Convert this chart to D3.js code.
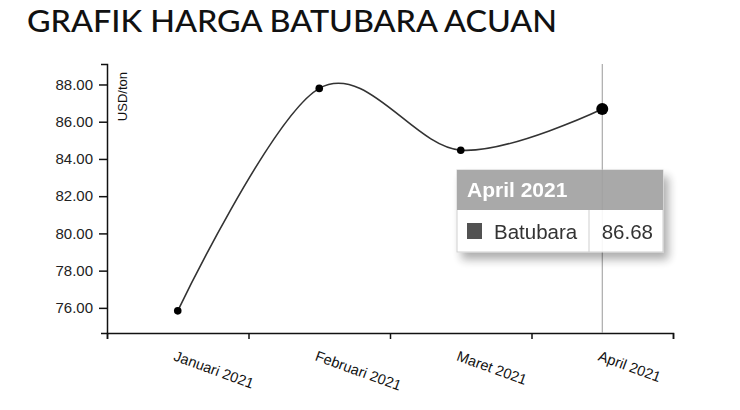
<!DOCTYPE html>
<html>
<head>
<meta charset="utf-8">
<script src="https://cdn.jsdelivr.net/npm/d3@7"></script>
<style>
  body { margin: 0; background: #fff; }
  svg { display: block; }
</style>
</head>
<body>
<svg id="chart" width="740" height="410"></svg>
<script>
// data
var months = ["Januari 2021", "Februari 2021", "Maret 2021", "April 2021"];
var hba = [75.84, 87.79, 84.47, 86.68];
var yTicks = [76, 78, 80, 82, 84, 86, 88];
var seriesName = "Batubara";
var focusIndex = 3;

var svg = d3.select("#chart");
var plotLeft = 107, plotRight = 673, plotTop = 64, plotBottom = 333;

var defs = svg.append("defs");
defs.append("filter")
	.attr("id", "shadow")
	.attr("x", "-20%").attr("y", "-20%")
	.attr("width", "150%").attr("height", "160%")
	.append("feDropShadow")
	.attr("dx", 5).attr("dy", 7)
	.attr("stdDeviation", 5)
	.attr("flood-color", "#000")
	.attr("flood-opacity", 0.35);

//Title
svg.append("text")
	.attr("x", 27)
	.attr("y", 32)
	.attr("textLength", 530)
	.attr("lengthAdjust", "spacingAndGlyphs")
	.style("font-family", "Lato, 'Noto Sans', sans-serif")
	.style("font-size", "31px")
	.style("font-weight", 500)
	.attr("fill", "#111")
	.text("GRAFIK HARGA BATUBARA ACUAN");

//Scales
var x = d3.scaleBand().domain(months).range([plotLeft, plotRight]).padding(0);
var xEdge = d3.scaleLinear().domain([0, months.length]).range([plotLeft, plotRight]);
var y = d3.scaleLinear().domain([74.65, 89.1]).range([plotBottom, plotTop]);

var axisFont = "'Liberation Sans', Arial, sans-serif";

//Y axis
var yAxis = svg.append("g")
	.attr("transform", "translate(" + plotLeft + ",0)")
	.call(d3.axisLeft(y).tickValues(yTicks).tickFormat(d3.format(".2f")).tickSizeInner(8).tickSizeOuter(6).tickPadding(6));
yAxis.selectAll("text").style("font-family", axisFont).style("font-size", "15px").attr("fill", "#222");
yAxis.selectAll("path, line").attr("stroke", "#111").attr("stroke-width", 1.5);

svg.append("text")
	.attr("transform", "translate(127," + 72 + ") rotate(-90)")
	.attr("text-anchor", "end")
	.style("font-family", axisFont)
	.style("font-size", "13px")
	.attr("fill", "#111")
	.text("USD/ton");

//X axis, ticks at category boundaries
var xAxis = svg.append("g")
	.attr("transform", "translate(0," + plotBottom + ")")
	.call(d3.axisBottom(xEdge).tickValues(d3.range(months.length + 1)).tickFormat("").tickSize(6));
xAxis.selectAll("path, line").attr("stroke", "#111").attr("stroke-width", 1.5);

svg.append("g").selectAll("text").data(months).enter().append("text")
	.attr("transform", d => "translate(" + (x(d) + x.bandwidth() / 2 - 5) + "," + (plotBottom + 27) + ") rotate(20)")
	.attr("text-anchor", "start")
	.style("font-family", axisFont)
	.style("font-size", "14.5px")
	.attr("fill", "#111")
	.text(d => d);

//Focus line
svg.append("line")
	.attr("x1", x(months[focusIndex]) + x.bandwidth() / 2)
	.attr("x2", x(months[focusIndex]) + x.bandwidth() / 2)
	.attr("y1", plotTop)
	.attr("y2", plotBottom)
	.attr("stroke", "#999")
	.attr("stroke-width", 1);

//Line
var line = d3.line()
	.x((d, i) => x(months[i]) + x.bandwidth() / 2)
	.y(d => y(d))
	.curve(d3.curveCardinal);

svg.append("path")
	.datum(hba)
	.attr("d", line)
	.attr("fill", "none")
	.attr("stroke", "#333")
	.attr("stroke-width", 1.6);

svg.append("g").selectAll("circle").data(hba).enter().append("circle")
	.attr("cx", (d, i) => x(months[i]) + x.bandwidth() / 2)
	.attr("cy", d => y(d))
	.attr("r", (d, i) => i === focusIndex ? 6 : 3.8)
	.attr("fill", "#000");

//Tooltip
var tip = svg.append("g")
	.attr("transform", "translate(457,170)")
	.attr("opacity", 0.92);
var tw = 206, hh = 40, rh = 42;
tip.append("rect")
	.attr("width", tw).attr("height", hh + rh)
	.attr("fill", "#fff")
	.attr("stroke", "#ccc")
	.attr("filter", "url(#shadow)");
tip.append("rect")
	.attr("width", tw).attr("height", hh)
	.attr("fill", "#a2a2a2");
tip.append("text")
	.attr("x", 10).attr("y", 27)
	.style("font-family", axisFont)
	.style("font-size", "21px")
	.style("font-weight", "bold")
	.attr("fill", "#fff")
	.text(months[focusIndex]);
tip.append("line")
	.attr("x1", 132).attr("x2", 132)
	.attr("y1", hh).attr("y2", hh + rh)
	.attr("stroke", "#ccc");
tip.append("rect")
	.attr("x", 10).attr("y", 53)
	.attr("width", 15).attr("height", 16)
	.attr("fill", "#444");
tip.append("text")
	.attr("x", 37).attr("y", 69)
	.style("font-family", axisFont)
	.style("font-size", "20.5px")
	.attr("fill", "#222")
	.text(seriesName);
tip.append("text")
	.attr("x", 196).attr("y", 69)
	.attr("text-anchor", "end")
	.style("font-family", axisFont)
	.style("font-size", "20.5px")
	.attr("fill", "#222")
	.text(hba[focusIndex].toFixed(2));
</script>
</body>
</html>
